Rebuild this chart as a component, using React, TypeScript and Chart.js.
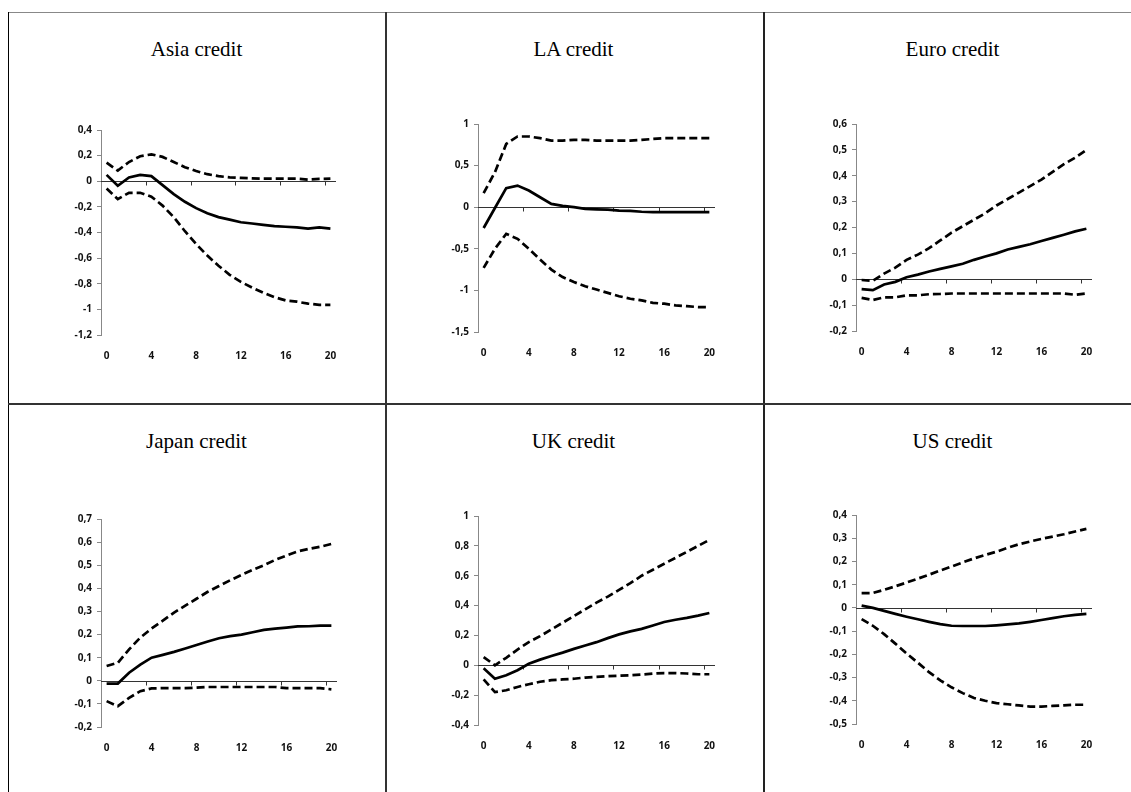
import React, { useEffect, useRef } from "react";
import { Chart, registerables } from "chart.js";

Chart.register(...registerables);

// ---------- data ----------
const periods = ["0","1","2","3","4","5","6","7","8","9","10","11","12","13","14","15","16","17","18","19","20"];
const xLabelEvery = 4;

const titles = ["Asia credit", "LA credit", "Euro credit", "Japan credit", "UK credit", "US credit"];

// Asia
const asiaMid = [0.05, -0.035, 0.03, 0.05, 0.04, -0.03, -0.1, -0.16, -0.21, -0.25, -0.28, -0.3, -0.32, -0.33, -0.34, -0.35, -0.355, -0.36, -0.37, -0.36, -0.37];
const asiaUpper = [0.145, 0.083, 0.15, 0.195, 0.21, 0.19, 0.15, 0.11, 0.08, 0.055, 0.04, 0.03, 0.026, 0.023, 0.02, 0.02, 0.02, 0.02, 0.013, 0.018, 0.02];
const asiaLower = [-0.057, -0.14, -0.09, -0.09, -0.12, -0.19, -0.28, -0.39, -0.49, -0.58, -0.66, -0.73, -0.785, -0.83, -0.87, -0.905, -0.93, -0.94, -0.955, -0.965, -0.965];
const asiaAxis = [-1.2, 0.4, 0.2]; // min, max, step

// Latin America
const laMid = [-0.25, -0.01, 0.23, 0.26, 0.2, 0.12, 0.04, 0.016, 0.0, -0.02, -0.025, -0.03, -0.04, -0.045, -0.055, -0.06, -0.06, -0.06, -0.06, -0.06, -0.06];
const laUpper = [0.17, 0.42, 0.76, 0.85, 0.85, 0.83, 0.8, 0.8, 0.81, 0.81, 0.8, 0.8, 0.8, 0.8, 0.81, 0.82, 0.83, 0.83, 0.83, 0.83, 0.83];
const laLower = [-0.73, -0.5, -0.32, -0.38, -0.5, -0.63, -0.75, -0.84, -0.9, -0.95, -0.99, -1.03, -1.07, -1.1, -1.12, -1.15, -1.16, -1.18, -1.19, -1.2, -1.2];
const laAxis = [-1.5, 1, 0.5];

// Euro
const euroMid = [-0.038, -0.042, -0.02, -0.01, 0.008, 0.018, 0.03, 0.04, 0.05, 0.06, 0.075, 0.088, 0.1, 0.115, 0.125, 0.135, 0.148, 0.16, 0.172, 0.185, 0.195];
const euroUpper = [-0.003, -0.006, 0.022, 0.045, 0.075, 0.095, 0.12, 0.15, 0.18, 0.205, 0.23, 0.255, 0.285, 0.31, 0.335, 0.36, 0.385, 0.415, 0.445, 0.47, 0.5];
const euroLower = [-0.072, -0.08, -0.07, -0.07, -0.062, -0.062, -0.058, -0.057, -0.055, -0.055, -0.055, -0.055, -0.055, -0.055, -0.055, -0.055, -0.055, -0.055, -0.055, -0.06, -0.055];
const euroAxis = [-0.2, 0.6, 0.1];

// Japan
const japanMid = [-0.012, -0.012, 0.035, 0.07, 0.1, 0.112, 0.125, 0.14, 0.155, 0.17, 0.184, 0.193, 0.2, 0.21, 0.22, 0.226, 0.23, 0.235, 0.236, 0.239, 0.239];
const japanUpper = [0.064, 0.078, 0.136, 0.187, 0.226, 0.26, 0.295, 0.325, 0.355, 0.385, 0.41, 0.435, 0.458, 0.48, 0.5, 0.523, 0.542, 0.56, 0.571, 0.58, 0.592];
const japanLower = [-0.088, -0.11, -0.074, -0.045, -0.033, -0.032, -0.032, -0.032, -0.03, -0.027, -0.027, -0.027, -0.027, -0.027, -0.027, -0.027, -0.032, -0.032, -0.032, -0.032, -0.037];
const japanAxis = [-0.2, 0.7, 0.1];

// UK
const ukMid = [-0.02, -0.09, -0.067, -0.033, 0.01, 0.038, 0.062, 0.085, 0.11, 0.133, 0.155, 0.182, 0.207, 0.227, 0.244, 0.267, 0.29, 0.305, 0.318, 0.333, 0.35];
const ukUpper = [0.055, 0.0, 0.05, 0.105, 0.155, 0.195, 0.24, 0.285, 0.33, 0.375, 0.42, 0.46, 0.505, 0.55, 0.6, 0.64, 0.68, 0.72, 0.76, 0.8, 0.84];
const ukLower = [-0.095, -0.18, -0.167, -0.145, -0.127, -0.11, -0.1, -0.095, -0.09, -0.082, -0.078, -0.073, -0.07, -0.067, -0.062, -0.056, -0.052, -0.052, -0.055, -0.06, -0.06];
const ukAxis = [-0.4, 1, 0.2];

// US
const usMid = [0.01, 0.0, -0.013, -0.026, -0.038, -0.049, -0.06, -0.07, -0.077, -0.078, -0.078, -0.078, -0.075, -0.071, -0.067, -0.06, -0.052, -0.044, -0.036, -0.03, -0.026];
const usUpper = [0.064, 0.064, 0.078, 0.093, 0.109, 0.126, 0.143, 0.161, 0.178, 0.196, 0.213, 0.228, 0.242, 0.259, 0.274, 0.286, 0.297, 0.307, 0.317, 0.329, 0.34];
const usLower = [-0.048, -0.077, -0.113, -0.154, -0.196, -0.236, -0.277, -0.312, -0.342, -0.367, -0.388, -0.4, -0.41, -0.415, -0.42, -0.425, -0.425, -0.422, -0.42, -0.417, -0.417];
const usAxis = [-0.5, 0.4, 0.1];

const panelSeries = [
  [asiaMid, asiaUpper, asiaLower],
  [laMid, laUpper, laLower],
  [euroMid, euroUpper, euroLower],
  [japanMid, japanUpper, japanLower],
  [ukMid, ukUpper, ukLower],
  [usMid, usUpper, usLower],
];
const panelAxes = [asiaAxis, laAxis, euroAxis, japanAxis, ukAxis, usAxis];

// ---------- layout (not data) ----------
const PANEL_W = 377;
const PANEL_H = 392;
const Y_AXIS_W = 50;
const X_AXIS_H = 30;
// plot frame inside each panel: left, top, right, bottom
const frames = [
  [93, 118, 328, 323],
  [93, 112, 330, 320],
  [92, 112, 328, 319],
  [93, 115, 329, 323],
  [93, 112, 330, 321],
  [92, 111, 328, 320],
];
const panelOrigins = [
  [0, 0], [377, 0], [756, 0],
  [0, 392], [377, 392], [756, 392],
];

const tickFont = { family: "'Open Sans', Lato, sans-serif", size: 10, weight: "bold" as const };

const zeroLinePlugin = {
  id: "zeroLine",
  beforeDatasetsDraw(chart: any) {
    const { ctx, chartArea, scales } = chart;
    const y = Math.round(scales.y.getPixelForValue(0)) + 0.5;
    const xs = scales.x;
    ctx.save();
    ctx.strokeStyle = "#333";
    ctx.lineWidth = 1;
    ctx.beginPath();
    ctx.moveTo(chartArea.left, y);
    ctx.lineTo(chartArea.right, y);
    for (let i = xLabelEvery; i < periods.length; i += xLabelEvery) {
      const xb = Math.round((xs.getPixelForValue(i - 1) + xs.getPixelForValue(i)) / 2) + 0.5;
      ctx.moveTo(xb, y);
      ctx.lineTo(xb, y + 4);
    }
    ctx.stroke();
    ctx.restore();
  },
};

function fmt(v: number) {
  const n = Math.round(v * 100) / 100;
  return String(n === 0 ? 0 : n).replace(".", ",");
}

function Panel({ idx }: { idx: number }) {
  const ref = useRef<HTMLCanvasElement>(null);
  useEffect(() => {
    const [mid, upper, lower] = panelSeries[idx];
    const [yMin, yMax, yStep] = panelAxes[idx];
    const [fl, ft, fr, fb] = frames[idx];
    const line = (data: number[], dashed: boolean) => ({
      data,
      borderColor: "#000",
      borderWidth: 2.7,
      borderDash: dashed ? [8, 4] : [],
      borderCapStyle: "butt" as const,
      pointRadius: 0,
      tension: 0,
      fill: false,
    });
    const chart = new Chart(ref.current!, {
      type: "line",
      data: {
        labels: periods,
        datasets: [line(upper, true), line(lower, true), line(mid, false)],
      },
      plugins: [zeroLinePlugin],
      options: {
        animation: false,
        responsive: false,
        events: [],
        layout: {
          padding: {
            left: fl - Y_AXIS_W,
            top: ft,
            right: PANEL_W - fr,
            bottom: PANEL_H - fb - X_AXIS_H,
          },
        },
        plugins: { legend: { display: false }, tooltip: { enabled: false }, title: { display: false } },
        scales: {
          x: {
            type: "category",
            offset: true,
            grid: { display: false },
            border: { display: false },
            ticks: {
              autoSkip: false,
              maxRotation: 0,
              padding: 7,
              color: "#111",
              font: tickFont,
              callback: (_v: any, i: number) => (i % xLabelEvery === 0 ? periods[i] : ""),
            },
            afterFit: (s: any) => { s.height = X_AXIS_H; },
          },
          y: {
            min: yMin,
            max: yMax,
            grid: { drawOnChartArea: false, drawTicks: true, tickLength: 4, color: "#888" },
            border: { display: true, color: "#888", width: 1 },
            ticks: {
              stepSize: yStep,
              padding: 5,
              color: "#111",
              font: tickFont,
              callback: (v: any) => fmt(Number(v)),
            },
            afterFit: (s: any) => { s.width = Y_AXIS_W; },
          },
        },
      },
    });
    return () => chart.destroy();
  }, [idx]);
  const [ox, oy] = panelOrigins[idx];
  return (
    <div style={{ position: "absolute", left: ox, top: oy, width: PANEL_W, height: PANEL_H }}>
      <div
        style={{
          position: "absolute",
          left: 0,
          top: 27,
          width: PANEL_W,
          textAlign: "center",
          fontFamily: "'Liberation Serif', 'Times New Roman', serif",
          fontSize: 21,
          lineHeight: "20px",
          color: "#000",
        }}
      >
        {titles[idx]}
      </div>
      <canvas ref={ref} width={PANEL_W} height={PANEL_H} style={{ position: "absolute", left: 0, top: 0 }} />
    </div>
  );
}

export default function App() {
  const line = (s: React.CSSProperties) => <div style={{ position: "absolute", ...s }} />;
  return (
    <div
      style={{
        position: "fixed",
        left: 8,
        top: 12,
        width: 1123,
        height: 780,
        overflow: "hidden",
        background: "#fff",
      }}
    >
      {[0, 1, 2, 3, 4, 5].map((i) => (
        <Panel key={i} idx={i} />
      ))}
      {line({ left: 0, top: 0, width: 1123, height: 1, background: "#888" })}
      {line({ left: 0, top: 0, width: 1, height: 780, background: "#000" })}
      {line({ left: 377, top: 0, width: 2, height: 780, background: "#333" })}
      {line({ left: 755, top: 0, width: 2, height: 780, background: "#222" })}
      {line({ left: 0, top: 391, width: 1123, height: 2, background: "#333" })}
    </div>
  );
}
